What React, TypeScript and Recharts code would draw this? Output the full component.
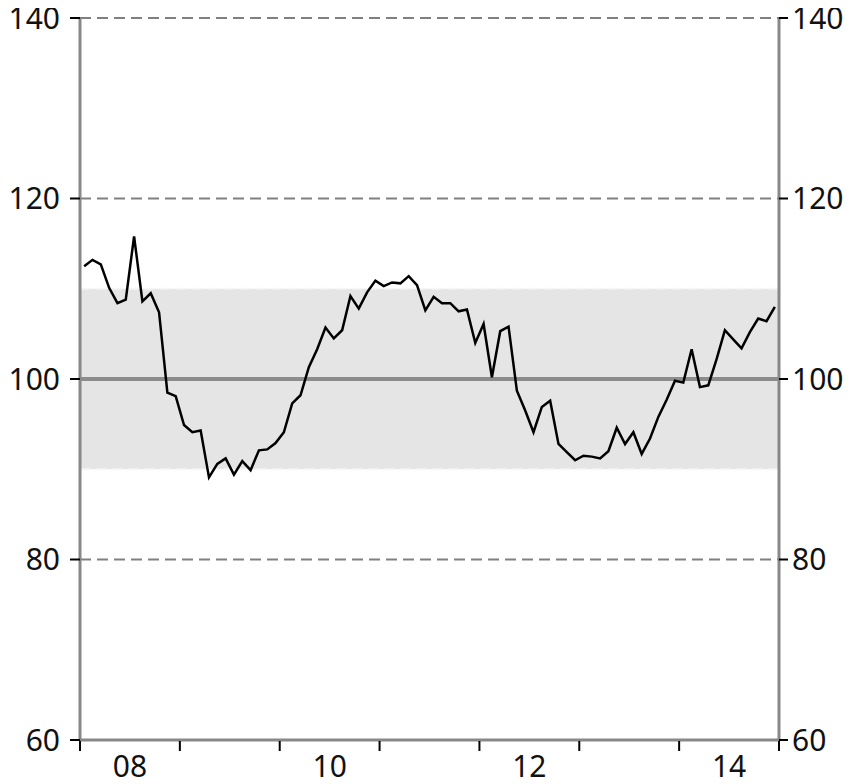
import React from 'react';
import { ComposedChart, Line, XAxis, YAxis, ReferenceArea, ReferenceLine } from 'recharts';

const startYear = 2008;
const values: number[] = [
  112.5, 113.2, 112.7, 110.1, 108.4, 108.8, 115.8, 108.6, 109.5, 107.4, 98.5, 98.1,
  94.9, 94.1, 94.3, 89.1, 90.6, 91.2, 89.4, 90.9, 89.9, 92.1, 92.2, 92.9,
  94.1, 97.3, 98.2, 101.3, 103.3, 105.7, 104.5, 105.4, 109.2, 107.8, 109.6, 110.9,
  110.3, 110.7, 110.6, 111.4, 110.4, 107.6, 109.1, 108.4, 108.4, 107.5, 107.7, 104.0,
  106.1, 100.2, 105.3, 105.8, 98.7, 96.5, 94.1, 96.9, 97.6, 92.8, 91.9, 91.0,
  91.5, 91.4, 91.2, 92.0, 94.6, 92.8, 94.1, 91.7, 93.4, 95.8, 97.7, 99.8,
  99.6, 103.3, 99.1, 99.3, 102.2, 105.4, 104.4, 103.4, 105.2, 106.7, 106.4, 108.0,
];
const yTicks = [60, 80, 100, 120, 140];
const gridValues = [60, 80, 120, 140];
const yearBoundaries = [0, 12, 24, 36, 48, 60, 72, 84];
const yearLabels = ['08', '10', '12', '14'];
const labelPositions = [6, 30, 54, 78];
const bandLow = 90;
const bandHigh = 110;
const centerLine = 100;

const data = values.map((v, i) => ({
  month: `${startYear + Math.floor(i / 12)}-${String((i % 12) + 1).padStart(2, '0')}`,
  t: i + 0.5,
  v,
}));

const xTicks = [...yearBoundaries, ...labelPositions].sort((a, b) => a - b);

const FONT = '"Noto Sans", sans-serif';
const FS = 30;
const X_TICK_SIZE = 11;
const X_TICK_MARGIN = 5;

const XTick = (props: any) => {
  const { x, y, payload } = props;
  const val = payload.value;
  const axisY = y - X_TICK_SIZE - X_TICK_MARGIN;
  const li = labelPositions.indexOf(val);
  if (li >= 0) {
    return (
      <text x={x} y={y} dy="0.71em" textAnchor="middle" fontSize={FS} fontFamily={FONT} fill="#111">
        {yearLabels[li]}
      </text>
    );
  }
  return <line x1={x} x2={x} y1={axisY + 1} y2={axisY + X_TICK_SIZE} stroke="#000" strokeWidth={2} />;
};

export default function App() {
  return (
    <ComposedChart
      width={839}
      height={776}
      data={data}
      margin={{ top: 10, right: 0, bottom: 0, left: 0 }}
    >
      <ReferenceArea yAxisId="left" y1={bandLow} y2={bandHigh} fill="#e5e5e5" fillOpacity={1} stroke="none" />
      <ReferenceLine yAxisId="left" y={bandHigh} stroke="#f5f5f5" strokeWidth={2} strokeDasharray="10 6" />
      <ReferenceLine yAxisId="left" y={bandLow} stroke="#f5f5f5" strokeWidth={2} strokeDasharray="10 6" />
      {gridValues.map((g) => (
        <ReferenceLine key={g} yAxisId="left" y={g} stroke="#808080" strokeWidth={2} strokeDasharray="11 6" />
      ))}
      <ReferenceLine yAxisId="left" y={centerLine} stroke="#8c8c8c" strokeWidth={4} />
      <XAxis
        dataKey="t"
        type="number"
        domain={[0, 84]}
        ticks={xTicks}
        interval={0}
        height={44}
        tickSize={X_TICK_SIZE}
        tickMargin={X_TICK_MARGIN}
        tickLine={false}
        tick={<XTick />}
        axisLine={{ stroke: '#888888', strokeWidth: 3 }}
      />
      <YAxis
        yAxisId="left"
        orientation="left"
        domain={[60, 140]}
        ticks={yTicks}
        interval={0}
        width={72}
        tickSize={10}
        tickMargin={10}
        tickLine={{ stroke: '#000', strokeWidth: 2 }}
        axisLine={{ stroke: '#888888', strokeWidth: 3 }}
        tick={{ fontSize: FS, fontFamily: FONT, fill: '#111' }}
      />
      <YAxis
        yAxisId="right"
        orientation="right"
        domain={[60, 140]}
        ticks={yTicks}
        interval={0}
        width={68}
        tickSize={9}
        tickMargin={4}
        tickLine={{ stroke: '#000', strokeWidth: 2 }}
        axisLine={{ stroke: '#888888', strokeWidth: 3 }}
        tick={{ fontSize: FS, fontFamily: FONT, fill: '#111' }}
      />
      <Line
        yAxisId="right"
        type="linear"
        dataKey="v"
        stroke="none"
        strokeOpacity={0}
        dot={false}
        activeDot={false}
        isAnimationActive={false}
      />
      <Line
        yAxisId="left"
        type="linear"
        dataKey="v"
        stroke="#000"
        strokeWidth={2.5}
        dot={false}
        isAnimationActive={false}
      />
    </ComposedChart>
  );
}
